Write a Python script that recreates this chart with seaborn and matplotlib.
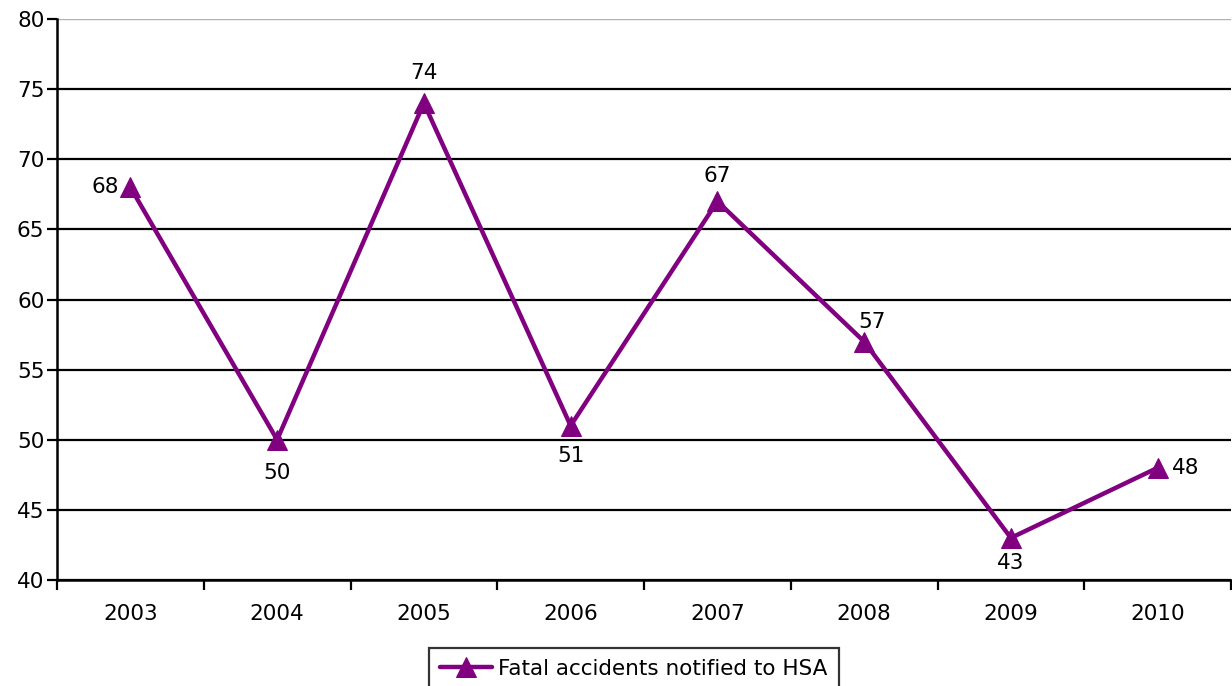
import matplotlib
matplotlib.use("Agg")
import matplotlib.pyplot as plt
import seaborn as sns
import pandas as pd
import numpy as np

years = ["2003", "2004", "2005", "2006", "2007", "2008", "2009", "2010"]
fatalities = [68, 50, 74, 51, 67, 57, 43, 48]
series_name = "Fatal accidents notified to HSA"

sns.set_style("white")
plt.rcParams["font.family"] = ["DejaVu Sans"]
plt.rcParams["text.color"] = "black"

df = pd.DataFrame({"pos": np.arange(len(years)), "value": fatalities, "series": series_name})

fig = plt.figure(figsize=(12.32, 6.86), dpi=100)
ax = fig.add_axes([57 / 1232, 106 / 686, 1174 / 1232, 561 / 686])

sns.lineplot(data=df, x="pos", y="value", hue="series", palette=["#800080"],
             marker="^", markersize=14, markeredgecolor="#800080",
             linewidth=3.2, ax=ax, legend=True)

ax.set_xlim(-0.5, len(years) - 0.5)
ax.set_ylim(40, 80)
ax.set_yticks(np.arange(40, 81, 5))
ax.yaxis.grid(True, color="black", linewidth=1.6)
ax.set_axisbelow(True)
# the top line of the plot area is a thin grey border
ax.get_ygridlines()[-1].set_color("#b0b0b0")
ax.get_ygridlines()[-1].set_linewidth(1.0)

# category labels centred, tick marks at the boundaries
ax.set_xticks(np.arange(-0.5, len(years), 1.0))
ax.set_xticklabels([])
ax.set_xticks(np.arange(len(years)), minor=True)
ax.set_xticklabels(years, minor=True)
ax.tick_params(axis="x", which="major", bottom=True, length=7, width=1.6,
               color="black", direction="out")
ax.tick_params(axis="x", which="minor", bottom=True, length=0, pad=17,
               labelsize=15.5, labelcolor="black")
ax.tick_params(axis="y", left=True, length=7, width=1.6, color="black",
               direction="out", labelsize=15.5, labelcolor="black", pad=2)
ax.set_xlabel("")
ax.set_ylabel("")

for side in ["top", "right"]:
    ax.spines[side].set_visible(False)
for side in ["left", "bottom"]:
    ax.spines[side].set_color("black")
    ax.spines[side].set_linewidth(1.8)

# value labels: offsets in points from each marker
label_offsets = [(-8, 0, "right"), (0, -24, "center"), (0, 22, "center"),
                 (0, -22, "center"), (0, 18, "center"), (6, 14, "center"),
                 (0, -18, "center"), (10, 0, "left")]
for i, (v, (dx, dy, ha)) in enumerate(zip(fatalities, label_offsets)):
    ax.annotate(str(v), (i, v), xytext=(dx, dy), textcoords="offset points",
                ha=ha, va="center", fontsize=15.5, color="black")

ax.legend_.remove()
handles, labels = ax.get_legend_handles_labels()
leg = fig.legend(handles, labels, loc="upper center",
                 bbox_to_anchor=(634 / 1232, 38 / 686), frameon=True,
                 fancybox=False, fontsize=15.5, handlelength=2.4,
                 handletextpad=0.3, borderpad=0.5, borderaxespad=0)
leg.get_frame().set_edgecolor("black")
leg.get_frame().set_linewidth(1.6)
for t in leg.get_texts():
    t.set_color("black")

fig.savefig("out.png", dpi=100)
